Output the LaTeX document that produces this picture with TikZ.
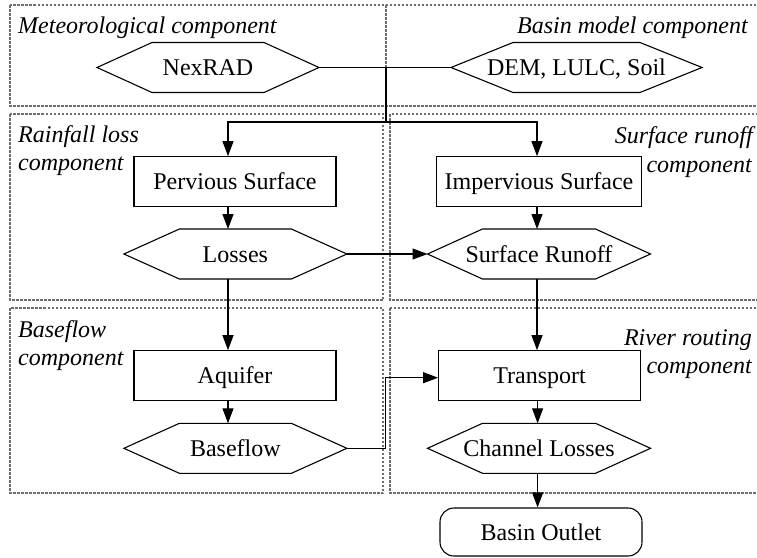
\documentclass[tikz,border=0pt]{standalone}
\usepackage{fontspec}
\setmainfont{Liberation Serif}
\newfontfamily\figserif{Liberation Serif}
\usetikzlibrary{arrows.meta,calc}
\definecolor{regiongray}{RGB}{110,110,110}
\newcommand{\hexnode}[6]{% name, x, y, half flat, half total, text
  \node[hextext] (#1) at (#2,#3) {#6};
  \coordinate (#1-l) at ($(#1.center)+(-#5,0)$);
  \coordinate (#1-r) at ($(#1.center)+(#5,0)$);
  \coordinate (#1-t) at ($(#1.center)+(0,-25)$);
  \coordinate (#1-b) at ($(#1.center)+(0,25)$);
  \draw[shapeline] ($(#1.center)+(-#4,-25)$) -- ($(#1.center)+(#4,-25)$) -- (#1-r)
    -- ($(#1.center)+(#4,25)$) -- ($(#1.center)+(-#4,25)$) -- (#1-l) -- cycle;
}
\tikzset{
  every node/.style={font=\figserif\fontsize{24pt}{28pt}\selectfont},
  procbox/.style={draw, line width=1.1pt, minimum width=202pt, minimum height=50pt,
    inner sep=0pt, text height=16pt, text depth=0pt},
  hextext/.style={inner sep=0pt, text height=16pt, text depth=0pt},
  shapeline/.style={line width=1.1pt},
  link/.style={line width=1.1pt},
  arr/.style={line width=1.1pt, -{Triangle[length=15pt,width=11pt]}},
  region/.style={draw=regiongray, line width=1.1pt, dash pattern=on 2.5pt off 1.5pt},
  lbl/.style={font=\figserif\fontsize{24pt}{28pt}\selectfont\itshape, inner sep=0pt},
}
\begin{document}
\begin{tikzpicture}[x=1pt, y=-1pt]
\useasboundingbox (0,0) rectangle (757,557);
% component regions
\begin{scope}
  \clip (0,0) rectangle (757,557);
  \draw[region] (10,5) rectangle (386,106);
  \draw[region] (386,5) rectangle (770,106);
  \draw[region] (10,114) rectangle (383,300);
  \draw[region] (390,114) rectangle (770,300);
  \draw[region] (10,308) rectangle (383,493);
  \draw[region] (390,308) rectangle (770,493);
\end{scope}
% region labels
\node[lbl, anchor=base west] (lmet) at (18,33) {Meteorological component};
\node[lbl, anchor=base east] (lbas) at (748,33) {Basin model component};
\node[lbl, anchor=base west] (lrl1) at (18,142) {Rainfall loss};
\node[lbl, anchor=base west] (lrl2) at (18,170) {component};
\node[lbl, anchor=base east] (lsr1) at (753,143) {Surface runoff};
\node[lbl, anchor=base east] (lsr2) at (752,172) {component};
\node[lbl, anchor=base west] (lbf1) at (18,337) {Baseflow};
\node[lbl, anchor=base west] (lbf2) at (18,365) {component};
\node[lbl, anchor=base east] (lrr1) at (752,345) {River routing};
\node[lbl, anchor=base east] (lrr2) at (752,373) {component};
% nodes
\hexnode{nex}{208}{67.5}{56}{111}{NexRAD}
\hexnode{dem}{576.5}{67.5}{63.5}{125.5}{DEM, LULC, Soil}
\node[procbox] (perv) at (235,181.7) {Pervious Surface};
\node[procbox, minimum width=205pt] (imp) at (539,181.7) {Impervious Surface};
\hexnode{los}{235.4}{254}{56}{111.5}{Losses}
\hexnode{sr}{539}{254}{56.5}{111.5}{Surface Runoff}
\node[procbox] (aq) at (235,375.7) {Aquifer};
\node[procbox] (tr) at (539.6,375.7) {Transport};
\hexnode{bf}{235.4}{448.3}{56}{111.5}{Baseflow}
\hexnode{cl}{539}{448.3}{56.5}{111.5}{Channel Losses}
\node[procbox, minimum height=48pt, rounded corners=14pt] (out) at (541,532) {Basin Outlet};
% connectors
\coordinate (j) at (386,122);
\draw[link] (nex-r) -- (dem-l);
\draw[link] (nex-r -| j) -- (j);
\draw[arr] (j) -| ([xshift=-7pt]perv.north);
\draw[arr] (j) -| ([xshift=-2pt]imp.north);
\draw[arr] ([xshift=-7pt]perv.south) -- ([xshift=-7pt]perv.south |- los-t);
\draw[arr] ([xshift=-7pt]perv.south |- los-b) -- ([xshift=-7pt]aq.north);
\draw[arr] ([xshift=-7pt]aq.south) -- ([xshift=-7pt]aq.south |- bf-t);
\draw[arr] (los-r) -- (sr-l);
\draw[arr] ([xshift=-2pt]imp.south) -- ([xshift=-2pt]imp.south |- sr-t);
\draw[arr] ([xshift=-2pt]imp.south |- sr-b) -- ([xshift=-2pt]imp.south |- tr.north);
\draw[arr] ([xshift=-2pt]tr.south) -- ([xshift=-2pt]tr.south |- cl-t);
\draw[arr] ([xshift=-2pt]tr.south |- cl-b) -- ([xshift=-2pt]tr.south |- out.north);
\draw[arr] (bf-r) -- ++(38.6,0) |- ([yshift=-2pt]tr.west);
\end{tikzpicture}
\end{document}
